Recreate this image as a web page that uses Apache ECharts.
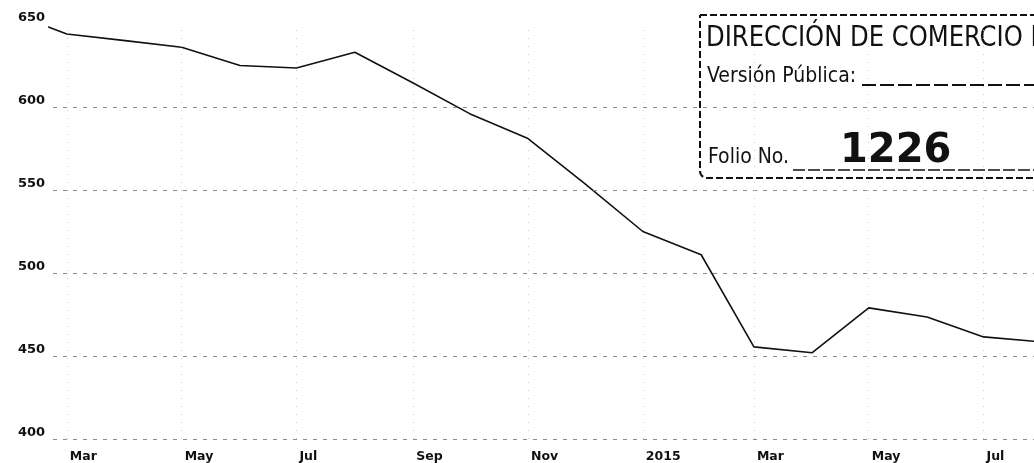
<!DOCTYPE html>
<html>
<head>
<meta charset="utf-8">
<script src="https://cdn.jsdelivr.net/npm/echarts@6/dist/echarts.min.js"></script>
<style>
  html, body { margin: 0; padding: 0; background: #fff; }
  #chart { width: 1034px; height: 463px; }
</style>
</head>
<body>
<div id="chart"></div>
<script>
// Monthly price series (first of each month)
const months = ['2014-02','2014-03','2014-04','2014-05','2014-06','2014-07','2014-08','2014-09','2014-10','2014-11','2014-12',
                '2015-01','2015-02','2015-03','2015-04','2015-05','2015-06','2015-07','2015-08'];
const prices = [656, 644, 640, 636, 625, 623.5, 633, 614.5, 596, 581, 554,
                525, 511, 455.5, 452, 479, 473.5, 461.5, 458.5];

// Axis ticks and labels
const tickMonths = ['2014-03','2014-05','2014-07','2014-09','2014-11','2015-01','2015-03','2015-05','2015-07'];
const tickLabels = ['Mar','May','Jul','Sep','Nov','2015','Mar','May','Jul'];
const yTicks = [400, 450, 500, 550, 600, 650];
const yGridValues = [400, 450, 500, 550, 600];

// Stamp texts
const stampTitle = 'DIRECCIÓN DE COMERCIO EXTERIOR';
const stampVersion = 'Versión Pública:';
const stampFolio = 'Folio No.';
const stampFolioNumber = '1226';

// Dates are placed on a numeric axis measured in days from 1 March 2014
const DAY = 86400000;
const toTime = m => { const [y, mo] = m.split('-').map(Number); return Date.UTC(y, mo - 1, 1); };
const anchor = toTime('2014-03');
const toDays = m => Math.round((toTime(m) - anchor) / DAY);
const tickDays = tickMonths.map(toDays);

const chart = echarts.init(document.getElementById('chart'), null, { renderer: 'canvas' });

const stampFont = "'DejaVu Sans Condensed', 'Liberation Sans', sans-serif";

chart.setOption({
  animation: false,
  backgroundColor: '#ffffff',
  grid: { left: 0, right: 0, top: 24, bottom: 24, containLabel: false },
  xAxis: {
    type: 'value',
    min: -33.9,
    max: 513.8,
    axisLine: { show: false },
    axisTick: { show: false },
    splitLine: { show: false },
    axisLabel: {
      customValues: tickDays,
      formatter: v => { const i = tickDays.indexOf(v); return i >= 0 ? tickLabels[i] : ''; },
      align: 'left',
      padding: [0, 0, 0, 3],
      margin: 11,
      fontFamily: 'DejaVu Sans',
      fontWeight: 'bold',
      fontSize: 12.5,
      color: '#111'
    }
  },
  yAxis: {
    type: 'value',
    min: 400,
    max: 650,
    interval: 50,
    z: 5,
    axisLine: { show: false },
    axisTick: { show: false },
    splitLine: { show: false },
    axisLabel: {
      inside: true,
      margin: 0,
      showMinLabel: true,
      showMaxLabel: true,
      // value on the upper line, blank lower line so the text sits above its grid line
      formatter: v => (yTicks.indexOf(v) >= 0 ? '{t|' + v + '}\n{s| }' : ''),
      backgroundColor: '#ffffff',
      padding: [0, 3, 0, 15],
      rich: {
        t: { fontFamily: 'DejaVu Sans', fontWeight: 'bold', fontSize: 13, lineHeight: 13, color: '#111' },
        s: { fontSize: 13, lineHeight: 13 }
      }
    }
  },
  series: [
    {
      type: 'line',
      data: months.map((m, i) => [toDays(m), prices[i]]),
      showSymbol: false,
      clip: true,
      lineStyle: { color: '#111', width: 1.6 },
      markLine: {
        silent: true,
        symbol: 'none',
        label: { show: false },
        data: [
          ...yGridValues.map(v => ({ yAxis: v, lineStyle: { color: '#8c8c8c', width: 1, type: [4, 6] } })),
          ...tickDays.map(d => ({ xAxis: d, lineStyle: { color: '#c8c8c8', width: 1, type: [1, 7] } }))
        ]
      }
    }
  ],
  graphic: [
    {
      type: 'group',
      z: 100,
      children: [
        { type: 'rect', shape: { x: 700, y: 15, width: 400, height: 163, r: [0, 0, 0, 7] },
          style: { fill: '#ffffff', stroke: '#111', lineWidth: 2, lineDash: [7, 3] } },
        { type: 'text', x: 706, y: 38, scaleX: 0.93,
          style: { text: stampTitle, x: 0, y: 0, textVerticalAlign: 'middle',
            font: '29px ' + stampFont, fill: '#111' } },
        { type: 'text', x: 707, y: 77,
          style: { text: stampVersion, x: 0, y: 0, textVerticalAlign: 'middle',
            font: '21px ' + stampFont, fill: '#111' } },
        { type: 'line', shape: { x1: 862, y1: 85, x2: 1034, y2: 85 },
          style: { stroke: '#111', lineWidth: 2, lineDash: [14, 4] } },
        { type: 'text', style: { text: stampFolio, x: 708, y: 158, textVerticalAlign: 'middle',
          font: '21px ' + stampFont, fill: '#111' } },
        { type: 'line', shape: { x1: 793, y1: 170, x2: 1034, y2: 170 },
          style: { stroke: '#111', lineWidth: 1.5, lineDash: [12, 3] } },
        { type: 'text', style: { text: stampFolioNumber, x: 840, y: 152, textVerticalAlign: 'middle',
          font: 'bold 40px DejaVu Sans', fill: '#111' } }
      ]
    }
  ]
});
</script>
</body>
</html>
